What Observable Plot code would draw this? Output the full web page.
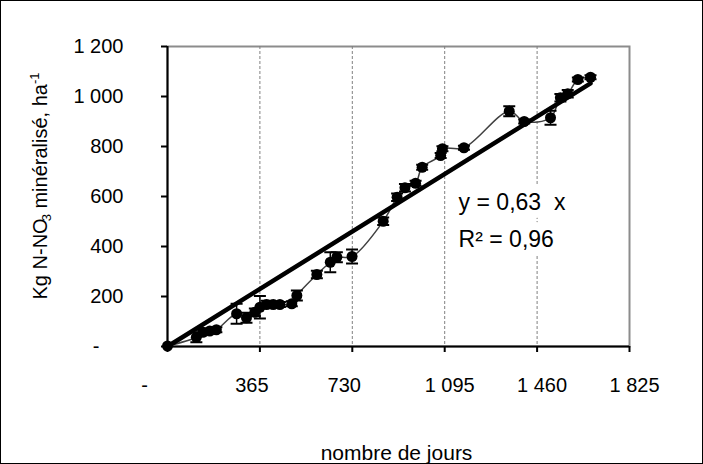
<!DOCTYPE html>
<html>
<head>
<meta charset="utf-8">
<script src="https://cdn.jsdelivr.net/npm/d3@7"></script>
<script src="https://cdn.jsdelivr.net/npm/@observablehq/plot@0.6"></script>
<style>
  html, body { margin: 0; padding: 0; background: #fff; }
  #wrap { position: relative; width: 703px; height: 464px; font-family: "Liberation Sans", Arial, sans-serif; }
  #border { position: absolute; left: 0; top: 0; width: 703px; height: 464px; box-sizing: border-box; border: 1px solid #000; pointer-events: none; }
  #ytitle { position: absolute; left: 40px; top: 186px; transform: translate(-50%, -50%) rotate(-90deg); white-space: nowrap; font-size: 20px; color: #000; line-height: 1; }
  #ytitle sub { font-size: 0.65em; vertical-align: -0.3em; line-height: 0; margin-left: -3px; }
  #ytitle sup { font-size: 0.65em; vertical-align: 0.65em; line-height: 0; }
</style>
</head>
<body>
<div id="wrap">
  <div id="chart"></div>
  <div id="ytitle">Kg N-NO<sub>3</sub> minéralisé, ha<sup>-1</sup></div>
  <div id="border"></div>
</div>
<script>
// ---- data ----
const days = [0, 114, 140, 167, 193, 273, 312, 345, 365, 391, 418, 444, 491, 511, 590, 643, 669, 729,
              852, 907, 938, 980, 1006, 1079, 1086, 1171, 1350, 1409, 1513, 1552, 1581, 1621, 1671];
const nMineral = [2, 37, 57, 62, 67, 131, 115, 137, 157, 168, 168, 168, 171, 204, 288, 337, 357, 360,
                  501, 597, 635, 653, 717, 764, 791, 795, 941, 900, 915, 995, 1011, 1068, 1077];
const errors = [0, 20, 10, 10, 10, 40, 20, 15, 45, 15, 10, 10, 10, 20, 15, 40, 20, 28,
                15, 15, 15, 10, 10, 10, 10, 8, 20, 8, 28, 15, 15, 8, 8];
const slope = 0.63;
const r2 = "0,96";
const xTicks = [0, 365, 730, 1095, 1460, 1825];
const xTickLabels = ["-", "365", "730", "1 095", "1 460", "1 825"];
const yTicks = [0, 200, 400, 600, 800, 1000, 1200];
const yTickLabels = ["-", "200", "400", "600", "800", "1 000", "1 200"];
const gridDays = [365, 730, 1095, 1460];
const xTitle = "nombre de jours";
const eqText = "y = 0,63\u00a0 x\nR\u00b2 = " + r2;
const eqPos = {d: 1150, v: 520};

// ---- derived tables ----
const points = days.map((d, i) => ({d, v: nMineral[i], e: errors[i]}));
const caps = points.filter(p => p.e > 0).flatMap(p => [{d: p.d, v: p.v + p.e}, {d: p.d, v: p.v - p.e}]);
const trend = [0, d3.max(days)].map(d => ({d, v: slope * d}));
const xLab = d => xTickLabels[xTicks.indexOf(d)];
const yLab = d => yTickLabels[yTicks.indexOf(d)];

const capSymbol = {
  draw(ctx, size) {
    const w = Math.sqrt(size / Math.PI);
    ctx.moveTo(-w, 0);
    ctx.lineTo(w, 0);
  }
};

const chart = Plot.plot({
  width: 703,
  height: 464,
  marginLeft: 167,
  marginRight: 74,
  marginTop: 46,
  marginBottom: 118,
  x: {domain: [0, 1825]},
  y: {domain: [0, 1200]},
  style: {fontFamily: "'Liberation Sans', Arial, sans-serif", fontSize: "20px", color: "#000", background: "transparent", overflow: "visible"},
  marks: [
    Plot.frame({stroke: "#8c8c8c", strokeWidth: 2}),
    Plot.ruleX(gridDays, {stroke: "#808080", strokeWidth: 1, strokeDasharray: "3,2"}),
    Plot.text([eqText], {x: () => eqPos.d, y: () => eqPos.v, textAnchor: "start", fontSize: 23, lineHeight: 1.61,
                         fill: "black", stroke: "white", strokeWidth: 16}),
    Plot.ruleX([0], {stroke: "black", strokeWidth: 2}),
    Plot.ruleY([0], {stroke: "black", strokeWidth: 2}),
    // y axis
    Plot.axisY(yTicks.filter(v => v > 0), {tickSize: 6, tickPadding: 38, tickFormat: yLab, strokeWidth: 2, fontSize: 20, label: null}),
    Plot.axisY([0], {tickSize: 6, tickPadding: 62, tickFormat: yLab, strokeWidth: 2, fontSize: 20, label: null}),
    // x axis ticks
    Plot.axisX(xTicks, {tickSize: 6, tickFormat: () => "", strokeWidth: 2, label: null}),
    // x axis labels
    Plot.axisX([0], {tickSize: 0, tickPadding: 31, dx: -23, tickFormat: xLab, fontSize: 20, label: null}),
    Plot.axisX([365, 730], {tickSize: 0, tickPadding: 31, dx: -8, tickFormat: xLab, fontSize: 20, label: null}),
    Plot.axisX([1095, 1460, 1825], {tickSize: 0, tickPadding: 31, dx: 5, tickFormat: xLab, fontSize: 20, label: null}),
    Plot.text([xTitle], {frameAnchor: "bottom", dy: 113, dx: -2, fontSize: 21}),
    // series
    Plot.line(points, {x: "d", y: "v", stroke: "#404040", strokeWidth: 1.5, curve: "catmull-rom"}),
    Plot.ruleX(points.filter(p => p.e > 0), {x: "d", y1: p => p.v - p.e, y2: p => p.v + p.e, stroke: "black", strokeWidth: 1.5}),
    Plot.dot(caps, {x: "d", y: "v", symbol: capSymbol, r: 6, stroke: "black", strokeWidth: 2, fill: "none"}),
    Plot.dot(points, {x: "d", y: "v", r: 5.5, fill: "black"}),
    Plot.line(trend, {x: "d", y: "v", stroke: "black", strokeWidth: 4.5})
  ]
});
document.getElementById("chart").appendChild(chart);
</script>
</body>
</html>
